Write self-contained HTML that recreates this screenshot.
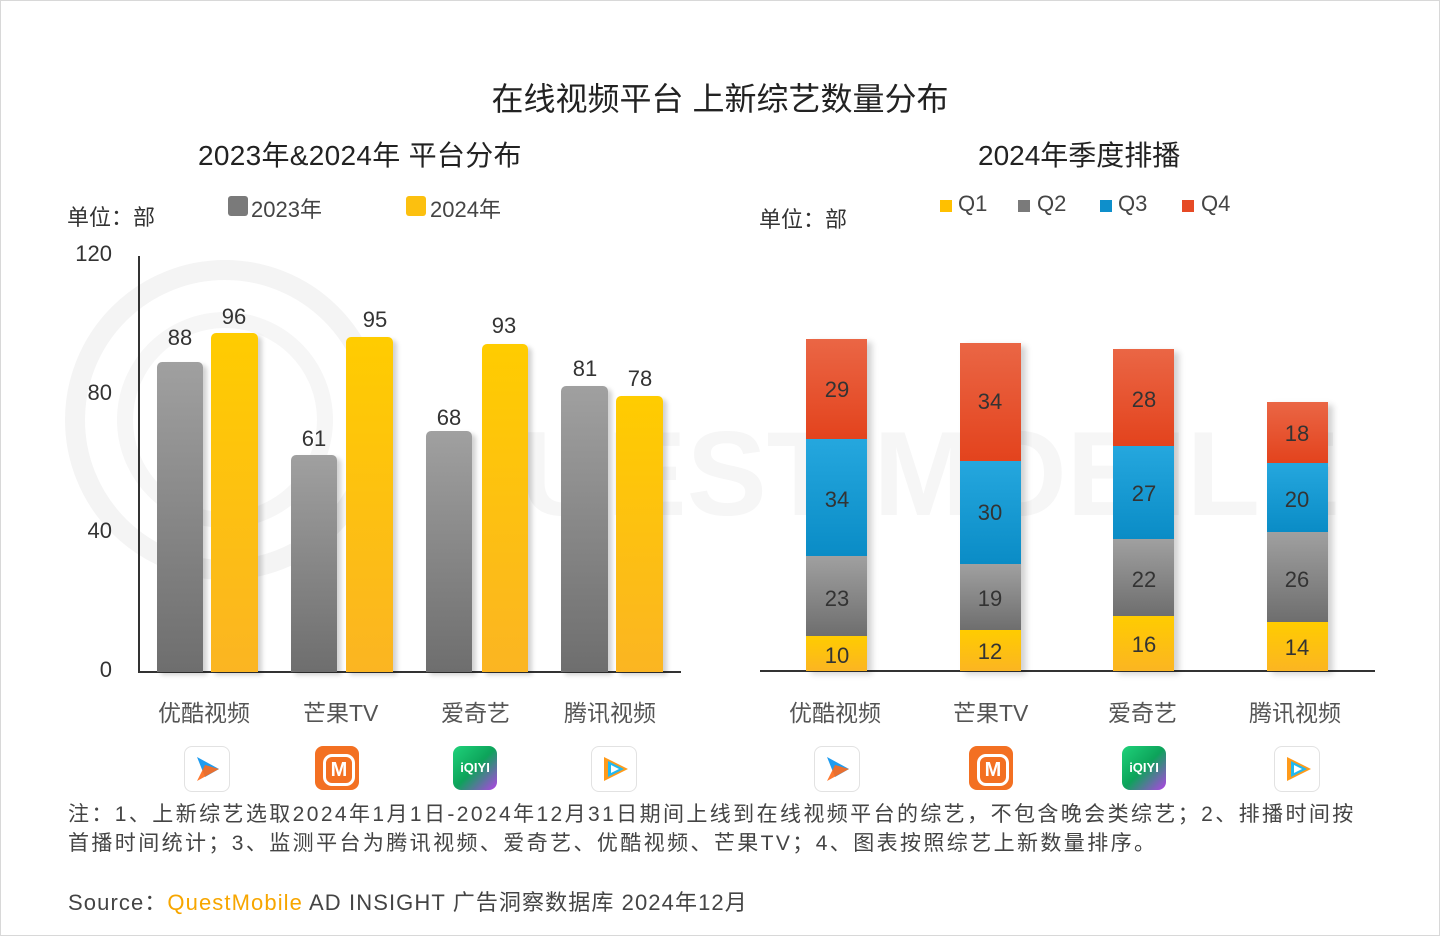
<!DOCTYPE html>
<html><head><meta charset="utf-8"><style>
body{margin:0;width:1440px;height:936px;background:#fff;font-family:"Liberation Sans","Noto Sans CJK SC",sans-serif;overflow:hidden}
.frame{position:absolute;left:0;top:0;width:1438px;height:934px;border:1px solid #d8d8d8}
.t{position:absolute;white-space:nowrap;color:#333}
.b{position:absolute}
.g{background:linear-gradient(#a0a0a0,#6e6e6e);border-radius:5px 5px 0 0;box-shadow:4px 3px 5px rgba(0,0,0,.18)}
.y{background:linear-gradient(#ffcc00,#fbb522);border-radius:5px 5px 0 0;box-shadow:4px 3px 5px rgba(0,0,0,.18)}
.q1{background:linear-gradient(#ffcc00,#fbb522)}
.q2{background:linear-gradient(#a0a0a0,#6e6e6e)}
.q3{background:linear-gradient(#25a7de,#0a8cc6)}
.q4{background:linear-gradient(#ea6645,#e3431d)}
.lab{position:absolute;font-size:22px;color:#333;text-align:center;width:60px}
.logo{position:absolute;width:44px;height:44px;border-radius:8px}
</style></head><body>
<div class="frame"></div>
<svg width="1440" height="936" style="position:absolute;left:0;top:0">
<circle cx="225" cy="420" r="150" fill="none" stroke="#f4f4f4" stroke-width="20"/>
<circle cx="225" cy="420" r="100" fill="none" stroke="#f6f6f6" stroke-width="16"/>
<text x="520" y="515" font-family="Liberation Sans" font-size="120" fill="#f6f6f6" font-weight="bold">UEST MOBILE</text>
</svg>
<div class="t" style="left:0;width:1440px;text-align:center;top:74px;font-size:32px;color:#222">在线视频平台 上新综艺数量分布</div>
<div class="t" style="left:198px;top:134px;font-size:28px;color:#222;letter-spacing:0.3px">2023年&amp;2024年 平台分布</div>
<div class="t" style="left:978px;top:134px;font-size:28px;color:#222">2024年季度排播</div>
<div class="t" style="left:67px;top:200px;font-size:22px">单位：部</div>
<div class="b" style="left:228px;top:196px;width:20px;height:20px;background:#7a7a7a;border-radius:3px"></div>
<div class="t" style="left:251px;top:192px;font-size:22px;color:#444">2023年</div>
<div class="b" style="left:406px;top:196px;width:20px;height:20px;background:#fcc00f;border-radius:3px"></div>
<div class="t" style="left:430px;top:192px;font-size:22px;color:#444">2024年</div>
<div class="t" style="left:759px;top:202px;font-size:22px">单位：部</div>
<div class="b" style="left:940px;top:200px;width:12px;height:12px;background:#ffc000"></div><div class="t" style="left:958px;top:191px;font-size:22px;color:#444">Q1</div>
<div class="b" style="left:1018px;top:200px;width:12px;height:12px;background:#7a7a7a"></div><div class="t" style="left:1037px;top:191px;font-size:22px;color:#444">Q2</div>
<div class="b" style="left:1100px;top:200px;width:12px;height:12px;background:#0e8fcb"></div><div class="t" style="left:1118px;top:191px;font-size:22px;color:#444">Q3</div>
<div class="b" style="left:1182px;top:200px;width:12px;height:12px;background:#e64a25"></div><div class="t" style="left:1201px;top:191px;font-size:22px;color:#444">Q4</div>
<!-- left axes -->
<div class="b" style="left:138px;top:256px;width:2px;height:417px;background:#333"></div>
<div class="b" style="left:138px;top:671px;width:543px;height:2px;background:#333"></div>
<div class="t" style="left:72px;top:241px;font-size:22px;width:40px;text-align:right">120</div>
<div class="t" style="left:72px;top:380px;font-size:22px;width:40px;text-align:right">80</div>
<div class="t" style="left:72px;top:518px;font-size:22px;width:40px;text-align:right">40</div>
<div class="t" style="left:72px;top:657px;font-size:22px;width:40px;text-align:right">0</div>
<div class="b g" style="left:157px;top:362px;width:46px;height:310px"></div>
<div class="b y" style="left:211px;top:333px;width:47px;height:339px"></div>
<div class="b g" style="left:291px;top:455px;width:46px;height:217px"></div>
<div class="b y" style="left:346px;top:337px;width:47px;height:335px"></div>
<div class="b g" style="left:426px;top:431px;width:46px;height:241px"></div>
<div class="b y" style="left:482px;top:344px;width:46px;height:328px"></div>
<div class="b g" style="left:561px;top:386px;width:47px;height:286px"></div>
<div class="b y" style="left:616px;top:396px;width:47px;height:276px"></div>
<div class="lab" style="left:150px;top:325px">88</div>
<div class="lab" style="left:204px;top:304px">96</div>
<div class="lab" style="left:284px;top:426px">61</div>
<div class="lab" style="left:345px;top:307px">95</div>
<div class="lab" style="left:419px;top:405px">68</div>
<div class="lab" style="left:474px;top:313px">93</div>
<div class="lab" style="left:555px;top:356px">81</div>
<div class="lab" style="left:610px;top:366px">78</div>
<div class="t" style="left:158px;top:694px;font-size:23px;color:#555">优酷视频</div>
<div class="t" style="left:303px;top:694px;font-size:23px;color:#555">芒果TV</div>
<div class="t" style="left:441px;top:694px;font-size:23px;color:#555">爱奇艺</div>
<div class="t" style="left:564px;top:694px;font-size:23px;color:#555">腾讯视频</div>
<!-- right -->
<div class="b" style="left:760px;top:670px;width:615px;height:2px;background:#333"></div>
<div class="b" style="left:806px;top:339px;width:61px;height:332px;box-shadow:5px 3px 6px rgba(0,0,0,.18)">
<div class="q4" style="height:100px"></div><div class="q3" style="height:117px"></div><div class="q2" style="height:80px"></div><div class="q1" style="height:35px"></div></div>
<div class="b" style="left:960px;top:343px;width:61px;height:328px;box-shadow:5px 3px 6px rgba(0,0,0,.18)">
<div class="q4" style="height:118px"></div><div class="q3" style="height:103px"></div><div class="q2" style="height:66px"></div><div class="q1" style="height:41px"></div></div>
<div class="b" style="left:1113px;top:349px;width:61px;height:322px;box-shadow:5px 3px 6px rgba(0,0,0,.18)">
<div class="q4" style="height:97px"></div><div class="q3" style="height:93px"></div><div class="q2" style="height:77px"></div><div class="q1" style="height:55px"></div></div>
<div class="b" style="left:1267px;top:402px;width:61px;height:269px;box-shadow:5px 3px 6px rgba(0,0,0,.18)">
<div class="q4" style="height:61px"></div><div class="q3" style="height:69px"></div><div class="q2" style="height:90px"></div><div class="q1" style="height:49px"></div></div>
<div class="lab" style="left:807px;top:377px">29</div><div class="lab" style="left:807px;top:487px">34</div><div class="lab" style="left:807px;top:586px">23</div><div class="lab" style="left:807px;top:643px">10</div>
<div class="lab" style="left:960px;top:389px">34</div><div class="lab" style="left:960px;top:500px">30</div><div class="lab" style="left:960px;top:586px">19</div><div class="lab" style="left:960px;top:639px">12</div>
<div class="lab" style="left:1114px;top:387px">28</div><div class="lab" style="left:1114px;top:481px">27</div><div class="lab" style="left:1114px;top:567px">22</div><div class="lab" style="left:1114px;top:632px">16</div>
<div class="lab" style="left:1267px;top:421px">18</div><div class="lab" style="left:1267px;top:487px">20</div><div class="lab" style="left:1267px;top:567px">26</div><div class="lab" style="left:1267px;top:635px">14</div>
<div class="t" style="left:789px;top:694px;font-size:23px;color:#555">优酷视频</div>
<div class="t" style="left:953px;top:694px;font-size:23px;color:#555">芒果TV</div>
<div class="t" style="left:1108px;top:694px;font-size:23px;color:#555">爱奇艺</div>
<div class="t" style="left:1249px;top:694px;font-size:23px;color:#555">腾讯视频</div>
<!-- logos -->
<div class="logo" style="left:184px;top:746px;border:1px solid #e2e2e2;background:#fff"><svg width="44" height="44"><path d="M12 10 L34 22 L20 30Z" fill="#1e9cf0"/><path d="M12 34 L34 22 L20 18Z" fill="#ff6a1a" opacity=".9"/></svg></div>
<div class="logo" style="left:315px;top:746px;background:#f37022"><div style="position:absolute;left:8px;top:8px;width:26px;height:26px;border:3px solid #fff;border-radius:9px;color:#fff;font-size:20px;text-align:center;line-height:26px;font-weight:bold">M</div></div>
<div class="logo" style="left:453px;top:746px;background:linear-gradient(135deg,#1fd27a,#0da35a 50%,#b341e8)"><div style="color:#fff;font-size:13px;font-weight:bold;text-align:center;line-height:44px">iQIYI</div></div>
<div class="logo" style="left:591px;top:746px;border:1px solid #e2e2e2;background:#fff"><svg width="44" height="44"><path d="M12 10 L36 22 L12 34Z" fill="#ff9a1a"/><path d="M16 14 L32 22 L16 30Z" fill="#22b8f0"/><path d="M19 18 L27 22 L19 26Z" fill="#fff"/></svg></div>
<div class="logo" style="left:814px;top:746px;border:1px solid #e2e2e2;background:#fff"><svg width="44" height="44"><path d="M12 10 L34 22 L20 30Z" fill="#1e9cf0"/><path d="M12 34 L34 22 L20 18Z" fill="#ff6a1a" opacity=".9"/></svg></div>
<div class="logo" style="left:969px;top:746px;background:#f37022"><div style="position:absolute;left:8px;top:8px;width:26px;height:26px;border:3px solid #fff;border-radius:9px;color:#fff;font-size:20px;text-align:center;line-height:26px;font-weight:bold">M</div></div>
<div class="logo" style="left:1122px;top:746px;background:linear-gradient(135deg,#1fd27a,#0da35a 50%,#b341e8)"><div style="color:#fff;font-size:13px;font-weight:bold;text-align:center;line-height:44px">iQIYI</div></div>
<div class="logo" style="left:1274px;top:746px;border:1px solid #e2e2e2;background:#fff"><svg width="44" height="44"><path d="M12 10 L36 22 L12 34Z" fill="#ff9a1a"/><path d="M16 14 L32 22 L16 30Z" fill="#22b8f0"/><path d="M19 18 L27 22 L19 26Z" fill="#fff"/></svg></div>
<div class="t" style="left:68px;top:800px;font-size:21px;color:#444;line-height:29px;letter-spacing:2.4px">注：1、上新综艺选取2024年1月1日-2024年12月31日期间上线到在线视频平台的综艺，不包含晚会类综艺；2、排播时间按<br>首播时间统计；3、监测平台为腾讯视频、爱奇艺、优酷视频、芒果TV；4、图表按照综艺上新数量排序。</div>
<div class="t" style="left:68px;top:885px;font-size:22px;color:#444;letter-spacing:1.1px">Source：<span style="color:#f7a600">QuestMobile</span> AD INSIGHT 广告洞察数据库 2024年12月</div>
</body></html>
